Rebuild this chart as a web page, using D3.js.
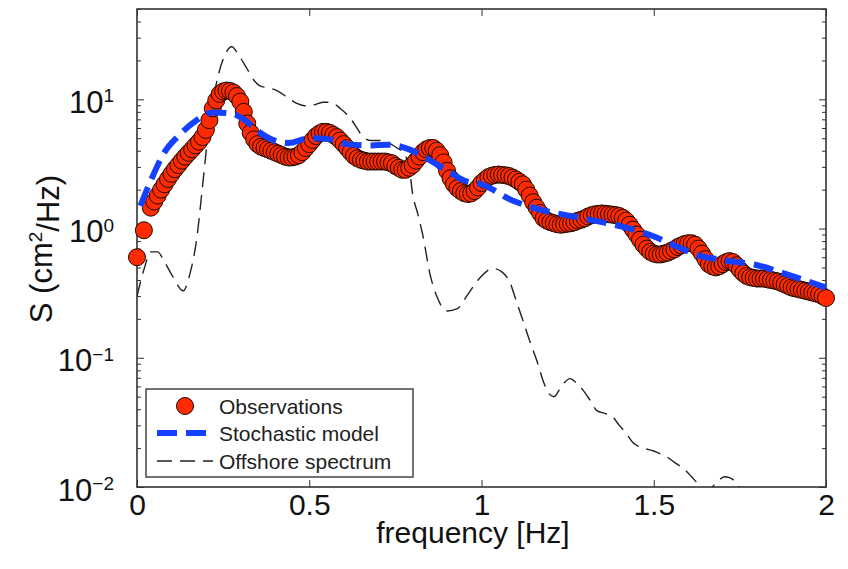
<!DOCTYPE html>
<html>
<head>
<meta charset="utf-8">
<script src="https://cdn.jsdelivr.net/npm/d3@7"></script>
<style>
  body { margin: 0; background: #fff; }
  svg { font-family: "Liberation Sans", Arial, Helvetica, sans-serif; }
</style>
</head>
<body>
<svg id="chart" width="848" height="569"></svg>
<script>
// observations
var obsFreq = [0.00,0.02,0.04,0.05,0.06,0.07,0.08,0.09,
  0.10,0.11,0.12,0.13,0.14,0.15,0.16,0.17,0.18,0.19,
  0.20,0.21,0.22,0.23,0.24,0.25,0.26,0.27,0.28,0.29,
  0.30,0.31,0.32,0.33,0.34,0.35,0.36,0.37,0.38,0.39,
  0.40,0.41,0.42,0.43,0.44,0.45,0.46,0.47,0.48,0.49,
  0.50,0.51,0.52,0.53,0.54,0.55,0.56,0.57,0.58,0.59,
  0.60,0.61,0.62,0.63,0.64,0.65,0.66,0.67,0.68,0.69,
  0.70,0.71,0.72,0.73,0.74,0.75,0.76,0.77,0.78,0.79,
  0.80,0.81,0.82,0.83,0.84,0.85,0.86,0.87,0.88,0.89,
  0.90,0.91,0.92,0.93,0.94,0.95,0.96,0.97,0.98,0.99,
  1.00,1.01,1.02,1.03,1.04,1.05,1.06,1.07,1.08,1.09,
  1.10,1.11,1.12,1.13,1.14,1.15,1.16,1.17,1.18,1.19,
  1.20,1.21,1.22,1.23,1.24,1.25,1.26,1.27,1.28,1.29,
  1.30,1.31,1.32,1.33,1.34,1.35,1.36,1.37,1.38,1.39,
  1.40,1.41,1.42,1.43,1.44,1.45,1.46,1.47,1.48,1.49,
  1.50,1.51,1.52,1.53,1.54,1.55,1.56,1.57,1.58,1.59,
  1.60,1.61,1.62,1.63,1.64,1.65,1.66,1.67,1.68,1.69,
  1.70,1.71,1.72,1.73,1.74,1.75,1.76,1.77,1.78,1.79,
  1.80,1.81,1.82,1.83,1.84,1.85,1.86,1.87,1.88,1.89,
  1.90,1.91,1.92,1.93,1.94,1.95,1.96,1.97,1.98,1.99,2.00];
var obsS = [0.60,0.97,1.45,1.62,1.80,2.00,2.20,2.42,
  2.65,2.88,3.10,3.35,3.60,3.85,4.10,4.40,4.70,5.10,
  5.80,6.90,8.50,9.80,11.0,11.5,11.7,11.6,11.3,10.6,
  9.6,8.0,6.5,5.5,4.9,4.5,4.3,4.2,4.1,4.0,
  3.9,3.8,3.7,3.6,3.55,3.55,3.6,3.7,3.9,4.2,
  4.5,4.85,5.2,5.45,5.6,5.6,5.5,5.3,5.1,4.8,
  4.5,4.2,3.9,3.65,3.5,3.4,3.35,3.3,3.3,3.3,
  3.3,3.3,3.3,3.25,3.2,3.05,2.95,2.85,2.85,2.95,
  3.1,3.35,3.6,3.9,4.1,4.2,4.2,4.0,3.7,3.25,
  2.8,2.45,2.2,2.05,1.95,1.88,1.85,1.87,1.95,2.08,
  2.25,2.38,2.5,2.56,2.6,2.62,2.6,2.58,2.55,2.48,
  2.4,2.3,2.2,2.0,1.8,1.6,1.45,1.32,1.2,1.15,
  1.12,1.1,1.08,1.07,1.08,1.09,1.1,1.12,1.15,1.17,
  1.2,1.24,1.27,1.29,1.3,1.31,1.3,1.29,1.28,1.27,
  1.25,1.21,1.15,1.07,0.98,0.9,0.82,0.75,0.70,0.66,
  0.64,0.63,0.63,0.64,0.65,0.67,0.69,0.72,0.74,0.76,
  0.77,0.77,0.75,0.70,0.64,0.58,0.53,0.51,0.50,0.51,
  0.53,0.55,0.56,0.55,0.52,0.48,0.45,0.43,0.42,0.415,
  0.41,0.41,0.41,0.405,0.40,0.395,0.39,0.38,0.37,0.36,
  0.35,0.345,0.34,0.335,0.33,0.325,0.32,0.315,0.31,0.30,0.29];

// stochastic model
var modelFreq = [0.01,0.04,0.08,0.12,0.17,0.22,0.27,0.31,0.35,0.39,0.44,0.50,0.56,0.61,0.68,0.73,0.79,0.84,0.91,
  0.95,1.00,1.09,1.18,1.26,1.35,1.43,1.51,1.57,1.63,1.70,1.80,1.90,2.00];
var modelS = [1.5,2.35,3.9,5.2,6.8,7.9,7.8,7.0,5.7,4.9,4.6,5.0,4.9,4.5,4.4,4.45,4.1,3.5,2.7,
  2.35,2.2,1.65,1.38,1.25,1.12,1.0,0.85,0.72,0.62,0.57,0.52,0.43,0.35];

// offshore spectrum
var offFreq = [0.00,0.02,0.04,0.06,0.08,0.105,0.134,0.154,0.174,0.19,0.205,0.22,0.235,0.255,0.275,0.295,0.318,0.34,
  0.357,0.38,0.406,0.44,0.464,0.49,0.51,0.54,0.56,0.59,0.618,0.64,0.656,0.68,0.705,0.73,0.755,0.775,0.79,
  0.80,0.815,0.83,0.85,0.87,0.90,0.93,0.957,0.99,1.034,1.06,1.083,1.10,1.12,1.14,1.16,1.18,1.195,1.21,
  1.235,1.257,1.275,1.295,1.315,1.335,1.36,1.38,1.40,1.42,1.44,1.47,1.50,1.52,1.54,1.56,1.585,1.61,1.63,
  1.65,1.665,1.685,1.705,1.72,1.74,1.76,1.80];
var offS = [0.30,0.48,0.66,0.66,0.55,0.42,0.33,0.45,0.86,2.1,5.0,9.5,15,22,25.5,22,17.5,14,
  12.7,12.3,11.7,10.2,9.3,8.9,9.0,9.5,9.5,8.5,7.2,5.9,5.1,4.8,4.8,4.6,4.2,3.8,3.0,
  1.86,1.3,0.88,0.45,0.30,0.23,0.24,0.30,0.40,0.49,0.46,0.38,0.28,0.195,0.135,0.096,0.065,0.053,0.05,
  0.062,0.069,0.064,0.056,0.047,0.039,0.037,0.035,0.030,0.026,0.022,0.020,0.019,0.018,0.017,0.0155,0.014,0.012,0.0105,
  0.0095,0.0098,0.011,0.012,0.0118,0.0108,0.009,0.007];

var xTicks = [0, 0.5, 1, 1.5, 2];
var xTickLabels = ["0", "0.5", "1", "1.5", "2"];
var yMajor = [0.01, 0.1, 1, 10];
var yExp = ["\u22122", "\u22121", "0", "1"];
var legendLabels = ["Observations", "Stochastic model", "Offshore spectrum"];

var margin = {top: 9, right: 22, bottom: 82, left: 137};
var width = 848 - margin.left - margin.right;
var height = 569 - margin.top - margin.bottom;

var x = d3.scaleLinear().domain([0, 2]).range([0, width]);
var y = d3.scaleLog().domain([0.01, 50]).range([height, 0]);

var svg = d3.select("#chart")
  .append("g")
  .attr("transform", "translate(" + margin.left + "," + margin.top + ")");

svg.append("defs").append("clipPath").attr("id", "clip")
  .append("rect").attr("width", width).attr("height", height);

// minor log ticks
var yMinor = [];
[0.01, 0.1, 1, 10].forEach(function(dec) {
  for (var k = 2; k <= 9; k++) {
    if (dec * k <= 50) yMinor.push(dec * k);
  }
});

var axisColor = "#333";

function styleAxis(g) {
  g.select(".domain").remove();
  g.selectAll("line").attr("stroke", axisColor).attr("stroke-width", 1);
}

svg.append("g").attr("transform", "translate(0," + height + ")")
  .call(d3.axisBottom(x).tickValues(xTicks).tickSize(-7).tickPadding(7)
    .tickFormat(function(d, i) { return xTickLabels[i]; }))
  .call(styleAxis)
  .selectAll("text").attr("font-size", 30).attr("fill", "#111")
  .attr("font-family", "Liberation Sans, Arial, sans-serif");

svg.append("g")
  .call(d3.axisTop(x).tickValues(xTicks).tickSize(-7).tickFormat(""))
  .call(styleAxis);

var yl = svg.append("g")
  .call(d3.axisLeft(y).tickValues(yMajor).tickSize(-7).tickPadding(23).tickFormat(""))
  .call(styleAxis);
yl.selectAll(".tick text").each(function(d, i) {
  var t = d3.select(this)
    .attr("font-size", 31).attr("fill", "#111").attr("dy", "0.42em")
    .attr("font-family", "Liberation Sans, Arial, sans-serif");
  t.text("10");
  t.append("tspan").attr("dy", "-0.55em").attr("font-size", 19).text(yExp[i]);
});

svg.append("g")
  .call(d3.axisLeft(y).tickValues(yMinor).tickSize(-4).tickFormat(""))
  .call(styleAxis);

svg.append("g").attr("transform", "translate(" + width + ",0)")
  .call(d3.axisRight(y).tickValues(yMajor).tickSize(-7).tickFormat(""))
  .call(styleAxis);
svg.append("g").attr("transform", "translate(" + width + ",0)")
  .call(d3.axisRight(y).tickValues(yMinor).tickSize(-4).tickFormat(""))
  .call(styleAxis);

// frame
svg.append("rect")
  .attr("width", width).attr("height", height)
  .attr("fill", "none").attr("stroke", axisColor).attr("stroke-width", 1.6);

var line = d3.line()
  .x(function(d) { return x(d[0]); })
  .y(function(d) { return y(d[1]); })
  .curve(d3.curveMonotoneX);

var offData = offFreq.map(function(f, i) { return [f, offS[i]]; });
var modelData = modelFreq.map(function(f, i) { return [f, modelS[i]]; });
var obsData = obsFreq.map(function(f, i) { return [f, obsS[i]]; });

svg.append("path")
  .datum(offData)
  .attr("clip-path", "url(#clip)")
  .attr("d", line)
  .attr("fill", "none")
  .attr("stroke", "#222")
  .attr("stroke-width", 1.4)
  .attr("stroke-dasharray", "15,8");

svg.selectAll("circle.obs")
  .data(obsData)
  .enter()
  .append("circle")
  .attr("class", "obs")
  .attr("cx", function(d) { return x(d[0]); })
  .attr("cy", function(d) { return y(d[1]); })
  .attr("r", 8.5)
  .attr("fill", "#ff2a00")
  .attr("stroke", "#1a0a00")
  .attr("stroke-width", 1);

svg.append("path")
  .datum(modelData)
  .attr("d", line)
  .attr("fill", "none")
  .attr("stroke", "#1640ff")
  .attr("stroke-width", 6)
  .attr("stroke-dasharray", "20,9");

// axis titles
svg.append("text")
  .attr("x", 336).attr("y", 534)
  .attr("text-anchor", "middle")
  .attr("font-size", 30).attr("fill", "#111")
  .text("frequency [Hz]");

var yt = svg.append("text")
  .attr("transform", "translate(" + (52 - margin.left) + "," + (249 - margin.top) + ") rotate(-90)")
  .attr("text-anchor", "middle")
  .attr("font-size", 31).attr("fill", "#111");
yt.append("tspan").text("S (cm");
yt.append("tspan").attr("dy", "-0.55em").attr("font-size", 19).text("2");
yt.append("tspan").attr("dy", "0.55em").text("/Hz)");

// legend
var lg = svg.append("g").attr("transform", "translate(" + (146 - margin.left) + "," + (389 - margin.top) + ")");
lg.append("rect")
  .attr("width", 267).attr("height", 88)
  .attr("fill", "#fff").attr("stroke", "#444").attr("stroke-width", 1.5);

var rowY = [17, 44, 72];
lg.append("circle").attr("cx", 39).attr("cy", rowY[0]).attr("r", 8.5)
  .attr("fill", "#ff2a00").attr("stroke", "#1a0a00").attr("stroke-width", 1);
lg.append("line").attr("x1", 11).attr("x2", 67).attr("y1", rowY[1]).attr("y2", rowY[1])
  .attr("stroke", "#1640ff").attr("stroke-width", 6).attr("stroke-dasharray", "20,9");
lg.append("line").attr("x1", 11).attr("x2", 67).attr("y1", rowY[2]).attr("y2", rowY[2])
  .attr("stroke", "#222").attr("stroke-width", 1.4).attr("stroke-dasharray", "15,8");

lg.selectAll("text.lab")
  .data(legendLabels)
  .enter()
  .append("text")
  .attr("class", "lab")
  .attr("x", 73)
  .attr("y", function(d, i) { return rowY[i]; })
  .attr("dy", "0.36em")
  .attr("font-size", 21)
  .attr("fill", "#222")
  .text(function(d) { return d; });
</script>
</body>
</html>
